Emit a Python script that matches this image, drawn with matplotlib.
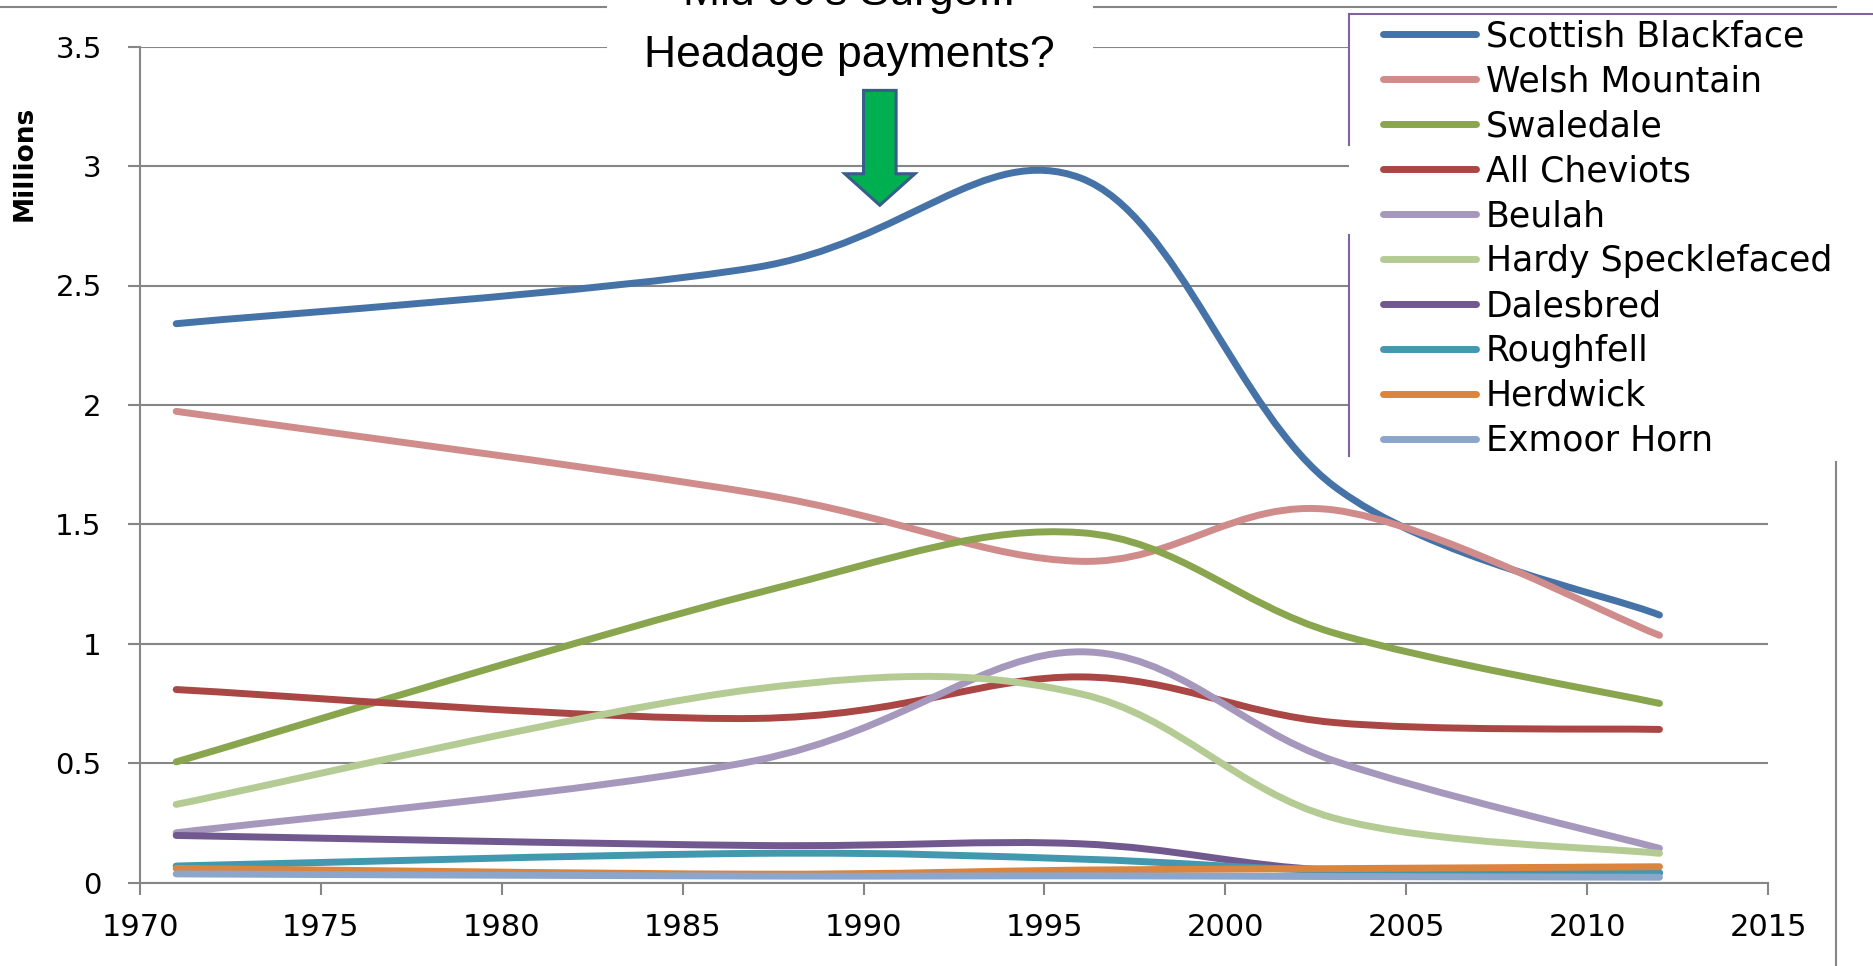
"""
Hill sheep breed numbers in Great Britain, 1971-2012
Smoothed lines between the national sheep breed survey years, with the
mid-90s peak called out.
"""

import matplotlib

matplotlib.use("Agg")

import matplotlib.pyplot as plt
from matplotlib.lines import Line2D
from matplotlib.patches import FancyArrow, PathPatch, Rectangle
from matplotlib.path import Path

# ------------------------------------------------------------
# Data - breeding ewes (millions) at each breed survey
# ------------------------------------------------------------
SURVEY_YEARS = [1971, 1987, 1996, 2003, 2012]

BREEDS = [
    "Scottish Blackface",
    "Welsh Mountain",
    "Swaledale",
    "All Cheviots",
    "Beulah",
    "Hardy Specklefaced",
    "Dalesbred",
    "Roughfell",
    "Herdwick",
    "Exmoor Horn",
]

scottish_blackface = [2.34, 2.575, 2.95, 1.66, 1.12]
welsh_mountain = [1.973, 1.63, 1.345, 1.56, 1.035]
swaledale = [0.505, 1.21, 1.465, 1.045, 0.75]
all_cheviots = [0.808, 0.687, 0.861, 0.67, 0.641]
beulah = [0.208, 0.51, 0.966, 0.51, 0.143]
hardy_specklefaced = [0.327, 0.81, 0.79, 0.27, 0.122]
dalesbred = [0.197, 0.155, 0.162, 0.05, 0.04]
roughfell = [0.069, 0.122, 0.098, 0.05, 0.04]
herdwick = [0.059, 0.035, 0.052, 0.058, 0.066]
exmoor_horn = [0.036, 0.027, 0.028, 0.025, 0.022]

SERIES = [
    scottish_blackface, welsh_mountain, swaledale, all_cheviots, beulah,
    hardy_specklefaced, dalesbred, roughfell, herdwick, exmoor_horn,
]

COLOURS = [
    "#4572A7", "#CF8C8B", "#89A54E", "#AA4643", "#A698BD",
    "#B5CB94", "#71588F", "#4198AF", "#DB843D", "#8BA5CB",
]

Y_TICKS = [0, 0.5, 1, 1.5, 2, 2.5, 3, 3.5]
Y_TICK_LABELS = ["0", "0.5", "1", "1.5", "2", "2.5", "3", "3.5"]
X_TICKS = [1970, 1975, 1980, 1985, 1990, 1995, 2000, 2005, 2010, 2015]

# Call-out arrow (data units)
ARROW_YEAR = 1990.45
ARROW_TOP = 3.317
ARROW_TIP = 2.836
ARROW_SHAFT_W = 0.90
ARROW_HEAD_W = 1.94
ARROW_HEAD_LEN = 0.132

W, H, DPI = 1874, 966, 100
GRID = "#868686"
LINE_W = 5.0


def fx(px):
    return px / W


def fy(py):
    return 1 - py / H


def smooth_path(xs, ys):
    """Excel-style smoothed line: cubic Bezier segments through every point,
    control points taken from neighbouring points (Catmull-Rom, 1/6)."""
    pts = list(zip(xs, ys))
    verts = [pts[0]]
    codes = [Path.MOVETO]
    n = len(pts)
    for i in range(n - 1):
        p0 = pts[i - 1] if i > 0 else pts[i]
        p1 = pts[i]
        p2 = pts[i + 1]
        p3 = pts[i + 2] if i + 2 < n else pts[i + 1]
        c1 = (p1[0] + (p2[0] - p0[0]) / 6, p1[1] + (p2[1] - p0[1]) / 6)
        c2 = (p2[0] - (p3[0] - p1[0]) / 6, p2[1] - (p3[1] - p1[1]) / 6)
        verts += [c1, c2, p2]
        codes += [Path.CURVE4] * 3
    return Path(verts, codes)


fig = plt.figure(figsize=(W / DPI, H / DPI), dpi=DPI)
ax = fig.add_axes([fx(140), fy(882.5), fx(1768) - fx(140), fy(46.7) - fy(882.5)])

ax.set_xlim(1970, 2015)
ax.set_ylim(0, 3.5)

handles = []
for name, values, colour in zip(BREEDS, SERIES, COLOURS):
    patch = PathPatch(smooth_path(SURVEY_YEARS, values), facecolor="none",
                      edgecolor=colour, lw=LINE_W, capstyle="round",
                      joinstyle="round", transform=ax.transData)
    ax.add_patch(patch)
    handles.append(Line2D([], [], color=colour, lw=LINE_W,
                          solid_capstyle="round", label=name))

# axes styling
ax.set_xticks(X_TICKS)
ax.set_yticks(Y_TICKS)
ax.set_yticklabels(Y_TICK_LABELS)
ax.yaxis.grid(True, color=GRID, lw=1.5)
ax.set_axisbelow(True)
for side in ("top", "right"):
    ax.spines[side].set_visible(False)
for side in ("left", "bottom"):
    ax.spines[side].set_color(GRID)
    ax.spines[side].set_linewidth(1.5)
ax.tick_params(axis="x", direction="out", length=8.3, width=1.5, color=GRID,
               labelsize=22, pad=14)
ax.tick_params(axis="y", direction="out", length=8.6, width=1.5, color=GRID,
               labelsize=21, pad=19)

fig.text(fx(25), fy(163), "Millions", rotation=90, ha="center", va="center",
         fontsize=19, fontweight="bold")

# green call-out arrow
arrow = FancyArrow(ARROW_YEAR, ARROW_TOP, 0, ARROW_TIP - ARROW_TOP,
                   width=ARROW_SHAFT_W, head_width=ARROW_HEAD_W,
                   head_length=ARROW_HEAD_LEN, length_includes_head=True,
                   facecolor="#00B050", edgecolor="#385D8A", lw=2.2,
                   joinstyle="miter", zorder=6)
ax.add_patch(arrow)

# outer frame lines, partly hidden by the text box and legend
fig.add_artist(Line2D([0, fx(1836)], [fy(7), fy(7)], color=GRID, lw=1.5, zorder=1))
fig.add_artist(Line2D([fx(1836), fx(1836)], [fy(462), 0], color=GRID, lw=1.5, zorder=1))

# white text box for the annotation
fig.add_artist(Rectangle((fx(607), fy(84)), fx(1093) - fx(607), 1 - fy(84),
                         facecolor="white", edgecolor="none", zorder=2))
fig.text(fx(849), fy(5), "Mid 90's Surge...", ha="center", va="baseline",
         fontsize=32, family="Liberation Sans", zorder=4)
fig.text(fx(849), fy(66.7), "Headage payments?", ha="center", va="baseline",
         fontsize=32, family="Liberation Sans", zorder=4)

# legend background and its bracket-style border
fig.add_artist(Rectangle((fx(1349), fy(460)), 1 - fx(1349), fy(11) - fy(460),
                         facecolor="white", edgecolor="none", zorder=2))
PURPLE = "#8064A2"
fig.add_artist(Line2D([fx(1349), 1], [fy(14), fy(14)], color=PURPLE, lw=1.5, zorder=3))
fig.add_artist(Line2D([fx(1349), fx(1349)], [fy(14), fy(145)], color=PURPLE, lw=1.5, zorder=3))
fig.add_artist(Line2D([fx(1349), fx(1349)], [fy(235), fy(456)], color=PURPLE, lw=1.5, zorder=3))

fig.legend(handles=handles, loc="upper left", bbox_to_anchor=(fx(1383), fy(19.5)),
           frameon=False, fontsize=25, borderpad=0, borderaxespad=0,
           handlelength=2.68, handletextpad=0.29, labelspacing=0.315)

fig.savefig("out.png", dpi=DPI)
